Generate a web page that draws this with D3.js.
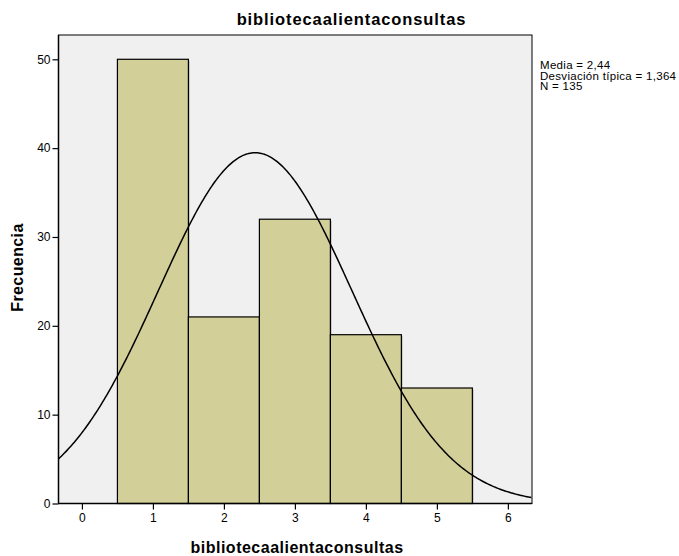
<!DOCTYPE html>
<html><head><meta charset="utf-8">
<script src="https://cdn.jsdelivr.net/npm/d3@7"></script>
<style>body{margin:0;background:#fff}svg{display:block}text{font-family:"Liberation Sans",Arial,sans-serif}</style>
</head><body>
<svg id="c" width="679" height="556"></svg>
<script>
const binStarts = [0.5, 1.5, 2.5, 3.5, 4.5];
const binWidth = 1;
const counts = [50, 21, 32, 19, 13];
const xTicks = [0, 1, 2, 3, 4, 5, 6];
const yTicks = [0, 10, 20, 30, 40, 50];
const mean = 2.44, sd = 1.364, n = 135;
const statLines = ["Media = 2,44", "Desviación típica = 1,364", "N = 135"];
const title = "bibliotecaalientaconsultas";

const svg = d3.select("#c");
const L = 58.5, R = 532, T = 35, B = 503.5;
const x = d3.scaleLinear().domain([-0.33, 6.34]).range([L, R]);
const y = d3.scaleLinear().domain([0, 50]).range([B, 59.3]);

svg.append("rect").attr("x", L).attr("y", T).attr("width", R - L).attr("height", B - T)
  .attr("fill", "#f0f0f0").attr("stroke", "#000").attr("stroke-width", 1);

const g = svg.append("g");
g.selectAll("rect.sh").data(counts).join("rect")
  .attr("x", (d, i) => x(binStarts[i]) + 1.5).attr("y", d => y(d) + 1.5)
  .attr("width", (d, i) => x(binStarts[i] + binWidth) - x(binStarts[i]))
  .attr("height", d => B - y(d) - 1.5).attr("fill", "#c8c8c8");
g.selectAll("rect.bar").data(counts).join("rect")
  .attr("x", (d, i) => x(binStarts[i])).attr("y", d => y(d))
  .attr("width", (d, i) => x(binStarts[i] + binWidth) - x(binStarts[i]))
  .attr("height", d => B - y(d)).attr("fill", "#d3cf99").attr("stroke", "#000").attr("stroke-width", 1.2);

const pts = d3.range(-0.33, 6.341, 0.02).map(v => [v, n * binWidth * Math.exp(-0.5 * ((v - mean) / sd) ** 2) / (sd * Math.sqrt(2 * Math.PI))]);
svg.append("path").datum(pts)
  .attr("d", d3.line().x(d => x(d[0])).y(d => y(d[1])))
  .attr("fill", "none").attr("stroke", "#000").attr("stroke-width", 1.5);

const xa = svg.append("g").attr("transform", `translate(0,${B})`)
  .call(d3.axisBottom(x).tickValues(xTicks).tickSize(6).tickPadding(4).tickFormat(d3.format("d")));
xa.select(".domain").attr("stroke-width", 1.5).attr("d", `M${L},0H${R}`);
const ya = svg.append("g").attr("transform", `translate(${L},0)`)
  .call(d3.axisLeft(y).tickValues(yTicks).tickSize(6).tickPadding(2).tickFormat(d3.format("d")));
ya.select(".domain").attr("stroke-width", 1.5).attr("d", `M0,${T}V${B}`);
svg.selectAll(".tick text").attr("font-size", 12).attr("fill", "#000")
  .style("font-family", "'Liberation Sans',Arial,sans-serif");
svg.selectAll(".tick line").attr("stroke-width", 1.2);

svg.append("text").attr("x", 351.5).attr("y", 25).attr("text-anchor", "middle")
  .attr("font-size", 16.5).attr("letter-spacing", 0.9).attr("font-weight", "bold").text(title);
svg.append("text").attr("x", 297).attr("y", 553).attr("text-anchor", "middle")
  .attr("font-size", 16).attr("letter-spacing", 0.5).attr("font-weight", "bold").text(title);
svg.append("text").attr("transform", "translate(23,267.5) rotate(-90)").attr("text-anchor", "middle")
  .attr("font-size", 16).attr("letter-spacing", 0.4).attr("font-weight", "bold").text("Frecuencia");

svg.append("g").selectAll("text").data(statLines).join("text")
  .attr("x", 540).attr("y", (d, i) => 69 + i * 10.5).attr("font-size", 11.5).attr("letter-spacing", 0.3).text(d => d);
</script>
</body></html>
